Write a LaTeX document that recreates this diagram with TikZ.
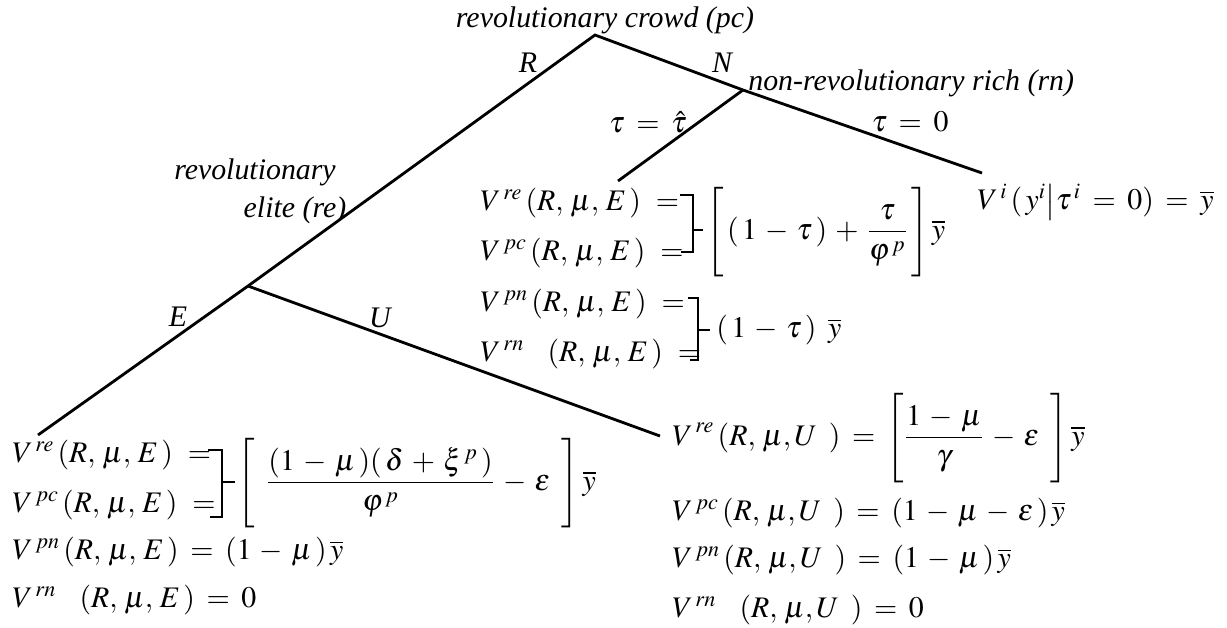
\documentclass[tikz,border=0pt]{standalone}
\usepackage{amsmath}
\usepackage{mathptmx}
\usepackage[no-math]{fontspec}
\setmainfont{Liberation Serif}
\usetikzlibrary{positioning}
\medmuskip=5mu plus 2mu minus 2mu
\thickmuskip=7mu plus 2mu minus 2mu
\newcommand{\tallstrut}{\vrule height 1.8em depth 1.25em width 0pt}

\begin{document}
\begin{tikzpicture}[x=0.02cm, y=-0.02cm,
    branch/.style={line width=1.6pt},
    brk/.style={line width=0.7pt},
    lab/.style={font=\fontsize{17}{20}\selectfont\itshape, inner sep=0pt},
    eq/.style={font=\fontsize{17}{20}\selectfont, inner sep=0pt, anchor=west}
]
    \useasboundingbox (0,0) rectangle (1227,627);

    % Decision nodes
    \coordinate (pc) at (595,35);
    \coordinate (re) at (248,286);
    \coordinate (rn) at (743,90);
    \coordinate (endE) at (38,435);
    \coordinate (endU) at (660,436);
    \coordinate (endN) at (982,173);
    \coordinate (endT) at (618,181);

    % Branches
    \draw[branch] (endE) -- (re) -- (pc) -- (rn) -- (endN);
    \draw[branch] (re) -- (endU);
    \draw[branch] (rn) -- (endT);

    % Players
    \node[lab] (pclab) at (605,20) {revolutionary crowd (pc)};
    \node[lab, anchor=west] (rnlab) at (748,83) {non-revolutionary rich (rn)};
    \node[lab] (relab1) at (255,172) {revolutionary};
    \node[lab] (relab2) at (295,210) {elite (re)};

    % Actions
    \node[lab] (actR) at (528,63) {R};
    \node[lab] (actN) at (722,63) {N};
    \node[lab] (actE) at (178,317) {E};
    \node[lab] (actU) at (380,318) {U};
    \node[eq, anchor=center] (tauhat) at (648,122) {$\tau=\hat{\tau}$};
    \node[eq, anchor=center] (tauzero) at (910,122) {$\tau=0$};

    % Payoffs after N, tau = hat tau
    \node[eq] (aRe) at (480,203) {$V^{\,re}\,(R,\,\mu,\,E\,)\,=$};
    \node[eq] (aPc) at (480,253) {$V^{\,pc}\,(R,\,\mu,\,E\,)\,=$};
    \node[eq] (aPn) at (480,304) {$V^{\,pn}\,(R,\,\mu,\,E\,)\,=$};
    \node[eq] (aRn) at (480,354) {$V^{\,rn}\;\;(R,\,\mu,\,E\,)\,=$};
    \draw[brk] (680,195) -- (693,195) -- (693,252) -- (681,252) (693,230) -- (703,230);
    \draw[brk] (688,298) -- (698,298) -- (698,360) -- (690,360) (698,330) -- (710,330);
    \node[eq] (aVal1) at (706,231) {$\displaystyle\left[\tallstrut\,(\,1-\tau\,)+\frac{\tau}{\varphi^{\,p}}\,\right]\overline{y}$};
    \node[eq] (aVal2) at (716,330) {$(\,1-\tau\,)\;\overline{y}$};

    % Payoff after N, tau = 0
    \node[eq] (nVal) at (977,202) {$V^{\,i}\,(\,y^{i}\bigr|\tau^{\,i}=0)=\overline{y}$};

    % Payoffs after R, E
    \node[eq] (bRe) at (12,455) {$V^{\,re}\,(R,\,\mu,\,E\,)\,=$};
    \node[eq] (bPc) at (12,505) {$V^{\,pc}\,(R,\,\mu,\,E\,)\,=$};
    \node[eq] (bPn) at (12,552) {$V^{\,pn}\,(R,\,\mu,\,E\,)=(1-\mu\,)\,\overline{y}$};
    \node[eq] (bRn) at (12,600) {$V^{\,rn}\;\;(R,\,\mu,\,E\,)=0$};
    \draw[brk] (208,450) -- (222,450) -- (222,517) -- (210,517) (222,482) -- (235,482);
    \node[eq] (bVal) at (237,482) {$\displaystyle\left[\tallstrut\;\frac{(1-\mu\,)(\,\delta+\xi^{\,p}\,)}{\varphi^{\,p}}-\varepsilon\;\right]\overline{y}$};

    % Payoffs after R, U
    \node[eq] (cRe) at (672,437) {$\displaystyle V^{\,re}\,(R,\,\mu,U\;)=\left[\tallstrut\frac{1-\mu}{\gamma}-\varepsilon\;\right]\overline{y}$};
    \node[eq] (cPc) at (672,513) {$V^{\,pc}\,(R,\,\mu,U\;)=(1-\mu-\varepsilon\,)\,\overline{y}$};
    \node[eq] (cPn) at (672,560) {$V^{\,pn}\,(R,\,\mu,U\;)=(1-\mu\,)\,\overline{y}$};
    \node[eq] (cRn) at (672,610) {$V^{\,rn}\;\;(R,\,\mu,U\;)=0$};
\end{tikzpicture}
\end{document}
